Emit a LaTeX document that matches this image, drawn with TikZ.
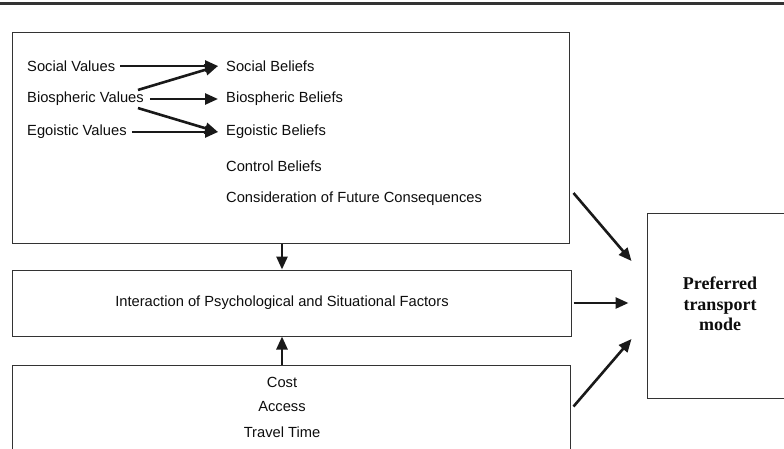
\documentclass[tikz,border=0pt]{standalone}
\usepackage{fontspec}
\setmainfont{Liberation Sans}
\newfontfamily\titlefont{Liberation Serif}
\usetikzlibrary{arrows.meta}

\begin{document}
\begin{tikzpicture}[x=1pt, y=-1pt]
\tikzset{boite/.style={draw=black!80, line width=1pt, inner sep=0pt},
  mot/.style={text=black!95, font=\fontsize{14.7}{16}\selectfont, inner sep=4pt},
  fleche/.style={draw=black!90, line width=2.6pt, -{Triangle[length=13pt, width=11pt]}}}
\useasboundingbox (0, 0) rectangle (784, 448);
\clip (0, 0) rectangle (784, 448);
\draw[black!80, line width=2.5pt] (0, 3.5) -- (784, 3.5);
% boxes
\node[boite, minimum width=557pt, minimum height=211pt] (psy) at (290.5, 137.5) {};
\node[boite, minimum width=559pt, minimum height=66pt] (inter) at (291.5, 303) {};
\node[boite, minimum width=558pt, minimum height=110pt] (situ) at (291, 420) {};
\node[boite, minimum width=146pt, minimum height=185pt] (mode) at (720, 305.5) {};
\node[text=black!95, align=center, font=\titlefont\bfseries\fontsize{18}{20.5}\selectfont] (modet) at (720, 304) {Preferred\\transport\\mode};
% values and beliefs
\node[mot, anchor=west] (V1) at (23, 66) {Social Values};
\node[mot, anchor=west] (V2) at (23, 99) {Biospheric Values};
\node[mot, anchor=west] (V3) at (23, 132) {Egoistic Values};
\node[mot, anchor=west] (B1) at (222, 66) {Social Beliefs};
\node[mot, anchor=west] (B2) at (222, 99) {Biospheric Beliefs};
\node[mot, anchor=west] (B3) at (222, 132) {Egoistic Beliefs};
\node[mot, anchor=west] (B4) at (222, 166) {Control Beliefs};
\node[mot, anchor=west] (B5) at (222, 199) {Consideration of Future Consequences};
\draw[fleche] ([xshift=1pt]V1.east) -- ([xshift=-4pt]B1.west);
\draw[fleche] ([xshift=2pt]V2.east) -- ([xshift=-4pt]B2.west);
\draw[fleche] ([xshift=1pt]V3.east) -- ([xshift=-4pt]B3.west);
\draw[fleche] ([shift={(-10, 2)}]V2.north east) -- ([xshift=-4pt]B1.west);
\draw[fleche] ([shift={(-10, -2)}]V2.south east) -- ([xshift=-4pt]B3.west);
% middle and bottom
\node[mot] (I) at (282, 303) {Interaction of Psychological and Situational Factors};
\node[mot] (C1) at (282, 382) {Cost};
\node[mot] (C2) at (282, 407) {Access};
\node[mot] (C3) at (282, 432) {Travel Time};
\draw[fleche] (psy.south -| I) -- (inter.north -| I);
\draw[fleche] (situ.north -| I) -- (inter.south -| I);
\draw[fleche] ([shift={(4, 55.5)}]psy.east) -- ([shift={(-15, -44.5)}]mode.west);
\draw[fleche] ([xshift=2pt]inter.east) -- ([xshift=-18pt]mode.west |- inter.east);
\draw[fleche] ([shift={(3, 42)}]situ.north east) -- ([shift={(-15, 33.5)}]mode.west);
\end{tikzpicture}
\end{document}
